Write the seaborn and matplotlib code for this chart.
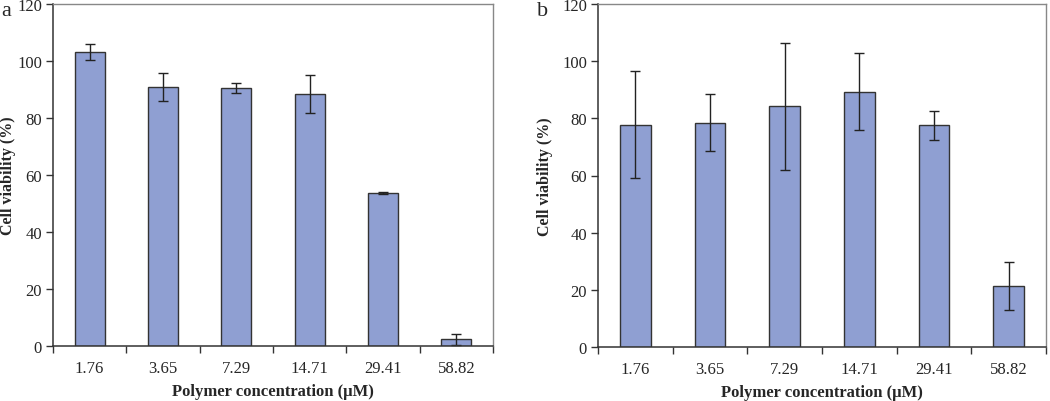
import numpy as np
import pandas as pd
import matplotlib
matplotlib.use("Agg")
import matplotlib.pyplot as plt
import seaborn as sns

# ---------------------------
# Data
# ---------------------------
concentrations = ["1.76", "3.65", "7.29", "14.71", "29.41", "58.82"]
viability_a = [103.0, 90.8, 90.5, 88.5, 53.8, 2.3]
error_a = [2.8, 5.0, 1.8, 6.6, 0.3, 2.0]
viability_b = [77.8, 78.5, 84.2, 89.3, 77.5, 21.3]
error_b = [18.8, 10.0, 22.3, 13.5, 5.2, 8.5]
panel_labels = ["a", "b"]

sns.set_style("white")
plt.rcParams["font.family"] = ["Liberation Serif", "DejaVu Serif"]

BAR_COLOR = "#8f9fd2"

fig = plt.figure(figsize=(10.5, 4.02), dpi=100)
ax_a = fig.add_axes([53 / 1050, 1 - 347 / 402, 440 / 1050, 342 / 402])
ax_b = fig.add_axes([598 / 1050, 1 - 348 / 402, 448 / 1050, 343 / 402])


def draw_panel(ax, values, errors, label, label_x, ylabel_x):
    df = pd.DataFrame({"conc": concentrations, "viability": values})
    sns.barplot(data=df, x="conc", y="viability", color=BAR_COLOR,
                width=0.41, edgecolor="#333333", linewidth=1.0,
                saturation=1, errorbar=None, ax=ax)
    ax.errorbar(np.arange(len(values)), values, yerr=errors, fmt="none",
                ecolor="#222222", elinewidth=1.0, capsize=3.5, capthick=1.0)
    ax.set_xlim(-0.5, len(values) - 0.5)
    ax.set_ylim(0, 120)
    ax.set_yticks(range(0, 121, 20))
    ax.set_xticks(np.arange(-0.5, len(values), 1.0), minor=True)
    ax.tick_params(axis="x", which="major", length=0, pad=10, labelsize=12)
    ax.tick_params(axis="x", which="minor", length=5, width=1, direction="out",
                   bottom=True, color="#333333")
    ax.tick_params(axis="y", length=5, width=1, direction="out", left=True,
                   labelsize=12, color="#333333", pad=3)
    ax.set_xlabel("Polymer concentration (\u00b5M)", fontsize=12,
                  fontweight="bold", labelpad=5)
    ax.set_ylabel("Cell viability (%)", fontsize=11.5, fontweight="bold")
    ax.yaxis.set_label_coords(ylabel_x, 0.5)
    for side in ["left", "bottom"]:
        ax.spines[side].set_color("#333333")
        ax.spines[side].set_linewidth(1.1)
    for side in ["top", "right"]:
        ax.spines[side].set_color("#888888")
        ax.spines[side].set_linewidth(1.0)
    fig.text(label_x, 1 - 12 / 402, label, fontsize=16, ha="left", va="center")


draw_panel(ax_a, viability_a, error_a, panel_labels[0], 1 / 1050, -0.083)
draw_panel(ax_b, viability_b, error_b, panel_labels[1], 537 / 1050, -0.1)

fig.savefig("out.png", dpi=100)
